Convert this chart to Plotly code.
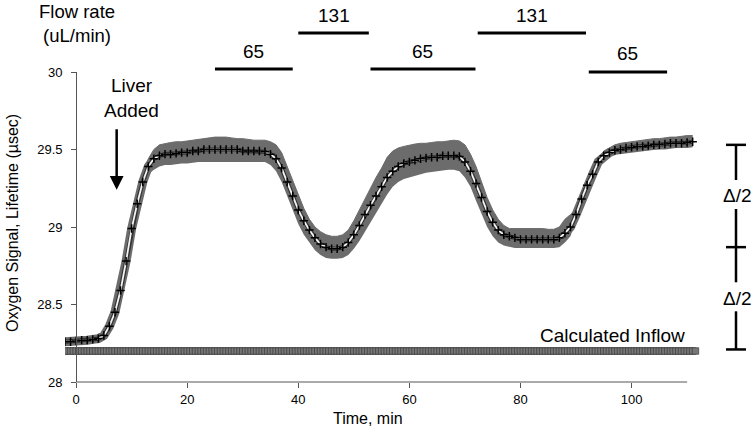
import plotly.graph_objects as go

# ---------------- data ----------------
time_min = list(range(-2, 112))
signal_mean = [
    28.26, 28.26, 28.265, 28.27, 28.27, 28.275, 28.28, 28.30,          # -2..5
    28.36, 28.45, 28.59, 28.78, 28.99, 29.15, 29.29, 29.39,            # 6..13
    29.44, 29.46, 29.47, 29.47, 29.475, 29.48, 29.48, 29.49, 29.49,    # 14..22
    29.50, 29.50, 29.50, 29.50, 29.50, 29.50, 29.50,                   # 23..29
    29.49, 29.49, 29.49, 29.49, 29.485, 29.47, 29.44, 29.38, 29.29,    # 30..38
    29.20, 29.11, 29.04, 28.98, 28.93, 28.89, 28.87, 28.86, 28.86,     # 39..47
    28.87, 28.90, 28.95, 29.01, 29.08, 29.14, 29.20, 29.26, 29.32,     # 48..56
    29.36, 29.39, 29.41, 29.42, 29.43, 29.44, 29.445, 29.45, 29.45,    # 57..65
    29.46, 29.46, 29.46, 29.455, 29.42, 29.36, 29.28, 29.19, 29.10,    # 66..74
    29.03, 28.98, 28.95, 28.94, 28.93, 28.92, 28.92, 28.92, 28.92,     # 75..83
    28.92, 28.92, 28.92, 28.93, 28.96, 29.00, 29.08, 29.18, 29.27,     # 84..92
    29.34, 29.42, 29.46, 29.48, 29.495, 29.50, 29.51, 29.515, 29.52,   # 93..101
    29.52, 29.525, 29.53, 29.53, 29.535, 29.54, 29.54, 29.54, 29.545,  # 102..110
    29.55,                                                             # 111
]
signal_upper = [
    28.27, 28.27, 28.275, 28.28, 28.28, 28.285, 28.29, 28.31,
    28.37, 28.46, 28.60, 28.79, 29.00, 29.17, 29.32, 29.44,
    29.50, 29.53, 29.54, 29.545, 29.55, 29.55, 29.555, 29.56, 29.565,
    29.57, 29.575, 29.58, 29.58, 29.58, 29.575, 29.57,
    29.57, 29.565, 29.56, 29.56, 29.56, 29.55, 29.53, 29.48, 29.39,
    29.29, 29.20, 29.12, 29.05, 29.00, 28.97, 28.95, 28.94, 28.94,
    28.95, 28.98, 29.04, 29.11, 29.19, 29.26, 29.32, 29.38, 29.45,
    29.49, 29.51, 29.52, 29.53, 29.535, 29.54, 29.54, 29.545, 29.55,
    29.55, 29.555, 29.56, 29.555, 29.53, 29.47, 29.39, 29.29, 29.19,
    29.11, 29.05, 29.01, 28.99, 28.99, 28.99, 28.99, 28.99, 28.99,
    28.99, 28.985, 28.985, 29.00, 29.05, 29.08, 29.11, 29.20, 29.29,
    29.36, 29.44, 29.49, 29.51, 29.53, 29.54, 29.545, 29.55, 29.555,
    29.56, 29.565, 29.57, 29.57, 29.575, 29.58, 29.58, 29.585, 29.59,
    29.59,
]
signal_lower = [
    28.25, 28.25, 28.255, 28.26, 28.26, 28.265, 28.27, 28.29,
    28.35, 28.44, 28.58, 28.77, 28.98, 29.13, 29.26, 29.34,
    29.37, 29.39, 29.40, 29.40, 29.405, 29.41, 29.41, 29.415, 29.42,
    29.42, 29.42, 29.42, 29.42, 29.42, 29.42, 29.42,
    29.42, 29.42, 29.42, 29.42, 29.42, 29.40, 29.36, 29.29, 29.20,
    29.11, 29.02, 28.95, 28.90, 28.85, 28.82, 28.80, 28.795, 28.795,
    28.80, 28.82, 28.86, 28.91, 28.97, 29.03, 29.09, 29.15, 29.21,
    29.26, 29.29, 29.31, 29.32, 29.33, 29.34, 29.35, 29.355, 29.36,
    29.365, 29.37, 29.37, 29.36, 29.32, 29.26, 29.17, 29.08, 29.00,
    28.94, 28.90, 28.88, 28.87, 28.865, 28.865, 28.865, 28.865, 28.865,
    28.865, 28.865, 28.865, 28.87, 28.90, 28.94, 29.05, 29.16, 29.25,
    29.32, 29.40, 29.44, 29.46, 29.47, 29.475, 29.48, 29.485, 29.49,
    29.49, 29.495, 29.50, 29.50, 29.50, 29.505, 29.51, 29.51, 29.51,
    29.515,
]
inflow_time = [-2 + 0.5 * i for i in range(228)]
inflow_value = [28.2] * len(inflow_time)

flow_start = [25.0, 40.0, 53.0, 72.3, 92.3]
flow_end = [39.0, 52.7, 71.9, 91.8, 106.4]
flow_rate = ["65", "131", "65", "131", "65"]

delta_levels = [29.53, 28.87, 28.21]   # plateau, trough, inflow
liver_added_time = 7.3
liver_added_level = 29.24

x_ticks = [0, 20, 40, 60, 80, 100]
y_ticks = [28, 28.5, 29, 29.5, 30]

assert len(signal_mean) == len(time_min) == len(signal_upper) == len(signal_lower)

# ---------------- layout geometry ----------------
W, H = 752, 430
ML, MR, MT, MB = 65, 51, 72, 48
XR = [-2, 112.5]
YR = [28, 30]
PW, PH = W - ML - MR, H - MT - MB

def xp(x):            # data x -> paper
    return (x - XR[0]) / (XR[1] - XR[0])

def yp(y):            # data y -> paper
    return (y - YR[0]) / (YR[1] - YR[0])

def pxp(px):          # pixel x -> paper
    return (px - ML) / PW

def pyp(py):          # pixel y (from top) -> paper
    return (H - MB - py) / PH

FONT = "Arial, Liberation Sans, sans-serif"
GREY = "#6c6c6c"

fig = go.Figure()

# error band
fig.add_trace(go.Scatter(x=time_min, y=signal_lower, mode="lines",
                         line=dict(color=GREY, width=0), hoverinfo="skip",
                         showlegend=False))
fig.add_trace(go.Scatter(x=time_min, y=signal_upper, mode="lines", fill="tonexty",
                         fillcolor=GREY, line=dict(color=GREY, width=1),
                         hoverinfo="skip", showlegend=False))
# thick grey trail around the mean
fig.add_trace(go.Scatter(x=time_min, y=signal_mean, mode="lines",
                         line=dict(color=GREY, width=9), showlegend=False))
# calculated inflow
fig.add_trace(go.Scatter(x=inflow_time, y=inflow_value, mode="markers",
                         marker=dict(symbol="square", size=6.5, color="#777777",
                                     line=dict(color="#3a3a3a", width=0.7)),
                         showlegend=False))
# mean line: dark outline, white core, black crosses
fig.add_trace(go.Scatter(x=time_min, y=signal_mean, mode="lines",
                         line=dict(color="#333333", width=4.2), showlegend=False))
fig.add_trace(go.Scatter(x=time_min, y=signal_mean, mode="lines",
                         line=dict(color="#f4f4f4", width=1.8), showlegend=False))
fig.add_trace(go.Scatter(x=time_min, y=signal_mean, mode="markers",
                         marker=dict(symbol="cross-thin", size=6,
                                     line=dict(color="black", width=1.5)),
                         showlegend=False))

shapes = []
annotations = []

# x axis line from 0 to 110
shapes.append(dict(type="line", xref="paper", yref="paper",
                   x0=xp(0), x1=xp(110), y0=0, y1=0,
                   line=dict(color="#555555", width=1)))

# flow-rate bars
bar_py = [69, 33, 69, 33, 72]
for s, e, r, py in zip(flow_start, flow_end, flow_rate, bar_py):
    shapes.append(dict(type="line", xref="paper", yref="paper",
                       x0=xp(s), x1=xp(e), y0=pyp(py), y1=pyp(py),
                       line=dict(color="black", width=3)))
    annotations.append(dict(xref="paper", yref="paper", x=xp((s + e) / 2),
                            y=pyp(py - 18), text=r, showarrow=False,
                            xanchor="center", yanchor="middle",
                            font=dict(size=19, color="black", family=FONT)))

annotations.append(dict(xref="paper", yref="paper", x=pxp(77), y=pyp(23),
                        text="Flow rate<br>(uL/min)", showarrow=False,
                        xanchor="center", yanchor="middle",
                        font=dict(size=18.5, color="black", family=FONT)))

# Liver Added
annotations.append(dict(xref="paper", yref="paper", x=pxp(131), y=pyp(98),
                        text="Liver<br>Added", showarrow=False,
                        xanchor="center", yanchor="middle",
                        font=dict(size=19, color="black", family=FONT)))
annotations.append(dict(xref="paper", yref="paper", x=xp(liver_added_time),
                        y=yp(liver_added_level), text="", showarrow=True,
                        ax=0, ay=-62, arrowhead=2, arrowsize=1.1, arrowwidth=2.5,
                        arrowcolor="black", standoff=0))

# Calculated Inflow
annotations.append(dict(xref="paper", yref="paper", x=pxp(687), y=pyp(335),
                        text="Calculated Inflow", showarrow=False,
                        xanchor="right", yanchor="middle",
                        font=dict(size=19, color="black", family=FONT)))

# Delta/2 brackets
bx = 736
top, mid, bot = [H - MB - yp(v) * PH for v in delta_levels]
for a, b in [(top, mid), (mid, bot)]:
    c = (a + b) / 2
    shapes.append(dict(type="line", xref="paper", yref="paper",
                       x0=pxp(bx), x1=pxp(bx), y0=pyp(a), y1=pyp(c - 16),
                       line=dict(color="black", width=2.5)))
    shapes.append(dict(type="line", xref="paper", yref="paper",
                       x0=pxp(bx), x1=pxp(bx), y0=pyp(c + 13), y1=pyp(b),
                       line=dict(color="black", width=2.5)))
    annotations.append(dict(xref="paper", yref="paper", x=pxp(bx + 1), y=pyp(c),
                            text="Δ/2", showarrow=False, xanchor="center",
                            yanchor="middle",
                            font=dict(size=19, color="black", family=FONT)))
for lev in (top, mid, bot):
    shapes.append(dict(type="line", xref="paper", yref="paper",
                       x0=pxp(bx - 10), x1=pxp(bx + 10), y0=pyp(lev), y1=pyp(lev),
                       line=dict(color="black", width=2.5)))

# axis titles
annotations.append(dict(xref="paper", yref="paper", x=pxp(368), y=pyp(418),
                        text="Time, min", showarrow=False, xanchor="center",
                        yanchor="middle",
                        font=dict(size=16, color="black", family=FONT)))
annotations.append(dict(xref="paper", yref="paper", x=pxp(12), y=pyp(223),
                        text="Oxygen Signal, Lifetime (µsec)", showarrow=False,
                        textangle=-90, xanchor="center", yanchor="middle",
                        font=dict(size=16, color="black", family=FONT)))

fig.update_layout(
    width=W, height=H,
    margin=dict(l=ML, r=MR, t=MT, b=MB, pad=0),
    paper_bgcolor="white", plot_bgcolor="white",
    showlegend=False,
    xaxis=dict(range=XR, tickvals=x_ticks, ticktext=[str(v) for v in x_ticks],
               showgrid=False, zeroline=False, showline=False,
               ticks="outside", ticklen=5, tickcolor="#555555", tickwidth=1,
               tickfont=dict(size=13, color="black", family=FONT)),
    yaxis=dict(range=YR, tickvals=y_ticks, ticktext=["28", "28.5", "29", "29.5", "30"],
               anchor="free", position=xp(0),
               showgrid=False, zeroline=False, showline=True,
               linecolor="#555555", linewidth=1,
               ticks="outside", ticklen=5, tickcolor="#555555", tickwidth=1,
               ticklabelstandoff=6,
               tickfont=dict(size=13, color="black", family=FONT)),
    shapes=shapes,
    annotations=annotations,
)

fig.write_html(
    "out.html",
    config={"displayModeBar": False},
    post_script="document.body.style.margin='0px';document.body.style.overflow='hidden';",
)
